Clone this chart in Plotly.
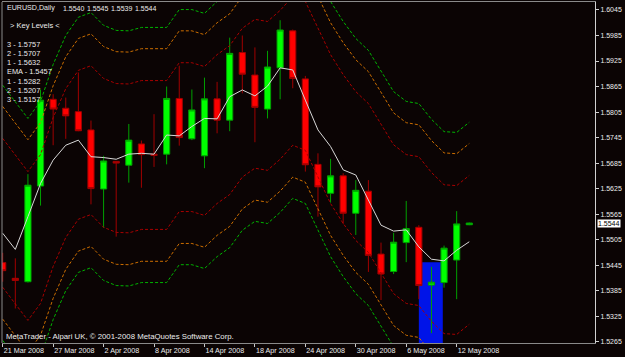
import plotly.graph_objects as go

# ---------------- data ----------------
dates = ["2008-03-21", "2008-03-24", "2008-03-25", "2008-03-26", "2008-03-27", "2008-03-28",
         "2008-03-31", "2008-04-01", "2008-04-02", "2008-04-03", "2008-04-04", "2008-04-07",
         "2008-04-08", "2008-04-09", "2008-04-10", "2008-04-11", "2008-04-14", "2008-04-15",
         "2008-04-16", "2008-04-17", "2008-04-18", "2008-04-21", "2008-04-22", "2008-04-23",
         "2008-04-24", "2008-04-25", "2008-04-28", "2008-04-29", "2008-04-30", "2008-05-01",
         "2008-05-02", "2008-05-05", "2008-05-06", "2008-05-07", "2008-05-08", "2008-05-09",
         "2008-05-12", "2008-05-13"]

opens = [1.5451, 1.5414, 1.5406, 1.5631, 1.5835, 1.5814, 1.5806, 1.5763, 1.5624, 1.5689,
         1.5680, 1.5730, 1.5706, 1.5706, 1.5837, 1.5742, 1.5702, 1.5836, 1.5786, 1.5945,
         1.5892, 1.5812, 1.5909, 1.5996, 1.5883, 1.5682, 1.5614, 1.5655, 1.5567, 1.5619,
         1.5471, 1.5430, 1.5498, 1.5534, 1.5398, 1.5404, 1.5457, 1.5540]
highs = [1.5474, 1.5461, 1.5659, 1.5858, 1.5847, 1.5839, 1.5898, 1.5785, 1.5702, 1.5690,
         1.5777, 1.5738, 1.5800, 1.5865, 1.5914, 1.5858, 1.5886, 1.5876, 1.5980, 1.5985,
         1.5957, 1.5949, 1.6021, 1.5999, 1.5890, 1.5708, 1.5695, 1.5661, 1.5645, 1.5645,
         1.5498, 1.5521, 1.5596, 1.5539, 1.5441, 1.5491, 1.5572, 1.5545]
lows = [1.5406, 1.5343, 1.5404, 1.5585, 1.5727, 1.5742, 1.5760, 1.5588, 1.5533, 1.5512,
        1.5639, 1.5627, 1.5676, 1.5682, 1.5726, 1.5739, 1.5673, 1.5755, 1.5760, 1.5849,
        1.5734, 1.5790, 1.5835, 1.5861, 1.5665, 1.5559, 1.5592, 1.5542, 1.5516, 1.5429,
        1.5363, 1.5424, 1.5452, 1.5365, 1.5285, 1.5392, 1.5365, 1.5539]
closes = [1.5432, 1.5409, 1.5633, 1.5833, 1.5812, 1.5796, 1.5761, 1.5625, 1.5690, 1.5685,
          1.5739, 1.5705, 1.5703, 1.5837, 1.5745, 1.5810, 1.5836, 1.5786, 1.5943, 1.5894,
          1.5816, 1.5911, 1.5998, 1.5884, 1.5681, 1.5629, 1.5655, 1.5567, 1.5621, 1.5468,
          1.5424, 1.5499, 1.5531, 1.5397, 1.5405, 1.5485, 1.5542, 1.5544]

ema = [1.5520, 1.5482, 1.5559, 1.5637, 1.5692, 1.5727, 1.5739, 1.5700, 1.5698, 1.5694,
       1.5706, 1.5708, 1.5706, 1.5751, 1.5749, 1.5771, 1.5790, 1.5789, 1.5841, 1.5857,
       1.5843, 1.5866, 1.5909, 1.5904, 1.5833, 1.5763, 1.5724, 1.5669, 1.5657, 1.5598,
       1.5539, 1.5525, 1.5528, 1.5488, 1.5459, 1.5455, 1.5480, 1.5500]

band_up3 = [1.5868, 1.5828, 1.5790, 1.5830, 1.5917, 1.5985, 1.6028, 1.6039, 1.6009, 1.5997,
            1.5996, 1.6004, 1.6004, 1.6004, 1.6046, 1.6046, 1.6037, 1.6065, 1.6086, 1.6127,
            1.6148, 1.6143, 1.6169, 1.6202, 1.6190, 1.6129, 1.6065, 1.6018, 1.5978, 1.5950,
            1.5903, 1.5853, 1.5830, 1.5825, 1.5788, 1.5759, 1.5757, 1.5781]
band_up2 = [1.5818, 1.5778, 1.5740, 1.5780, 1.5867, 1.5935, 1.5978, 1.5989, 1.5959, 1.5947,
            1.5946, 1.5954, 1.5954, 1.5954, 1.5996, 1.5996, 1.5987, 1.6015, 1.6036, 1.6077,
            1.6098, 1.6093, 1.6119, 1.6152, 1.6140, 1.6079, 1.6015, 1.5968, 1.5928, 1.5900,
            1.5853, 1.5803, 1.5780, 1.5775, 1.5738, 1.5709, 1.5707, 1.5731]
band_up1 = [1.5743, 1.5703, 1.5665, 1.5705, 1.5792, 1.5860, 1.5903, 1.5914, 1.5884, 1.5872,
            1.5871, 1.5879, 1.5879, 1.5879, 1.5921, 1.5921, 1.5912, 1.5940, 1.5961, 1.6002,
            1.6023, 1.6018, 1.6044, 1.6077, 1.6065, 1.6004, 1.5940, 1.5893, 1.5853, 1.5825,
            1.5778, 1.5728, 1.5705, 1.5700, 1.5663, 1.5634, 1.5632, 1.5656]
band_dn1 = [1.5393, 1.5353, 1.5315, 1.5355, 1.5442, 1.5510, 1.5553, 1.5564, 1.5534, 1.5522,
            1.5521, 1.5529, 1.5529, 1.5529, 1.5571, 1.5571, 1.5562, 1.5590, 1.5611, 1.5652,
            1.5673, 1.5668, 1.5694, 1.5727, 1.5715, 1.5654, 1.5590, 1.5543, 1.5503, 1.5475,
            1.5428, 1.5378, 1.5355, 1.5350, 1.5313, 1.5284, 1.5282, 1.5306]
band_dn2 = [1.5318, 1.5278, 1.5240, 1.5280, 1.5367, 1.5435, 1.5478, 1.5489, 1.5459, 1.5447,
            1.5446, 1.5454, 1.5454, 1.5454, 1.5496, 1.5496, 1.5487, 1.5515, 1.5536, 1.5577,
            1.5598, 1.5593, 1.5619, 1.5652, 1.5640, 1.5579, 1.5515, 1.5468, 1.5428, 1.5400,
            1.5353, 1.5303, 1.5280, 1.5275, 1.5238, 1.5209, 1.5207, 1.5231]
band_dn3 = [1.5268, 1.5228, 1.5190, 1.5230, 1.5317, 1.5385, 1.5428, 1.5439, 1.5409, 1.5397,
            1.5396, 1.5404, 1.5404, 1.5404, 1.5446, 1.5446, 1.5437, 1.5465, 1.5486, 1.5527,
            1.5548, 1.5543, 1.5569, 1.5602, 1.5590, 1.5529, 1.5465, 1.5418, 1.5378, 1.5350,
            1.5303, 1.5253, 1.5230, 1.5225, 1.5188, 1.5159, 1.5157, 1.5181]

tick_dates = ["2008-03-21", "2008-03-27", "2008-04-02", "2008-04-08", "2008-04-14",
              "2008-04-18", "2008-04-24", "2008-04-30", "2008-05-06", "2008-05-12"]
tick_labels = ["21 Mar 2008", "27 Mar 2008", "2 Apr 2008", "8 Apr 2008", "14 Apr 2008",
               "18 Apr 2008", "24 Apr 2008", "30 Apr 2008", "6 May 2008", "12 May 2008"]
price_ticks = [1.6045, 1.5985, 1.5925, 1.5865, 1.5805, 1.5745, 1.5685, 1.5625,
               1.5565, 1.5505, 1.5445, 1.5385, 1.5325, 1.5265]

key_levels_title = "> Key Levels <"
key_level_labels = ["3 - 1.5757", "2 - 1.5707", "1 - 1.5632", "EMA - 1.5457",
                    "1 - 1.5282", "2 - 1.5207", "3 - 1.5157"]
symbol = "EURUSD,Daily"
credit = "MetaTrader - Alpari UK, \u00a9 2001-2008 MetaQuotes Software Corp."

zone_start, zone_end, zone_top = "2008-05-07", "2008-05-09", 1.5452

# ---------------- styling / layout constants ----------------
W, H = 625, 357
ML, MR, MT, MB = 2, 30, 2, 14
BG = "#0b0404"
FONT = "Liberation Sans, Arial, sans-serif"
TXT = "#ececec"
Y_RANGE = [1.52619, 1.60638]
X_RANGE = [-0.056, 46.97]
HEADER_X = [60.5, 84.5, 108.5, 132.5]   # pixel starts of the four OHLC values

plot_h = H - MT - MB
plot_w = W - ML - MR


def py(pix):  # pixel row -> paper y
    return (H - MB - pix) / plot_h


def px(pix):  # pixel column -> paper x
    return (pix - ML) / plot_w


fig = go.Figure()

band_style = [
    (band_up3, "#00b400"), (band_up2, "#cc6e00"), (band_up1, "#a80000"),
    (band_dn1, "#a80000"), (band_dn2, "#cc6e00"), (band_dn3, "#00b400"),
]
for vals, col in band_style:
    fig.add_trace(go.Scatter(x=dates, y=vals, mode="lines",
                             line=dict(color=col, width=1, dash="3px,2px"),
                             hoverinfo="skip", showlegend=False))

fig.add_trace(go.Candlestick(
    x=dates, open=opens, high=highs, low=lows, close=closes,
    increasing=dict(line=dict(color="#00a000", width=1), fillcolor="#00ff00"),
    decreasing=dict(line=dict(color="#a00000", width=1), fillcolor="#ff0000"),
    whiskerwidth=0, showlegend=False))

fig.add_trace(go.Scatter(x=dates, y=ema, mode="lines",
                         line=dict(color="#d8d8d8", width=1),
                         hoverinfo="skip", showlegend=False))

# blue zone rectangle (background object)
fig.add_shape(type="rect", layer="below", xref="x", yref="y",
              x0=dates.index(zone_start), x1=dates.index(zone_end) - 0.1,
              y0=zone_top, y1=Y_RANGE[0],
              fillcolor="#0014e8", line=dict(width=0))
# left frame border
fig.add_shape(type="line", xref="paper", yref="paper", x0=0, x1=0, y0=0, y1=1,
              line=dict(color="#8a8a8a", width=1))

ann = []
ann.append(dict(text=symbol, x=px(4.5), y=py(8.5), size=7.1))
last_ohlc = [opens[-1], highs[-1], lows[-1], closes[-1]]
for xp, v in zip(HEADER_X, last_ohlc):
    ann.append(dict(text=f"{v:.4f}", x=px(xp), y=py(8.5), size=7.0))
ann.append(dict(text=key_levels_title, x=px(7.5), y=py(25.5), size=7.5))
for i, lab in enumerate(key_level_labels):
    ann.append(dict(text=lab, x=px(4.5), y=py(44 + i * 9.33), size=7.4))
ann.append(dict(text=credit, x=px(4), y=py(336.5), size=7.8))
for a in ann:
    size = a.pop("size")
    fig.add_annotation(xref="paper", yref="paper", xanchor="left", yanchor="middle",
                       showarrow=False, font=dict(family=FONT, size=size, color=TXT), **a)

# current price box
fig.add_annotation(xref="paper", yref="y", x=1, y=closes[-1], xanchor="left",
                   yanchor="middle", xshift=2, showarrow=False, text=f"{closes[-1]:.4f}",
                   bgcolor="#ffffff", borderpad=0,
                   font=dict(family=FONT, size=7, color="#000000"))

fig.update_layout(
    width=W, height=H,
    margin=dict(l=ML, r=MR, t=MT, b=MB, pad=0),
    paper_bgcolor=BG, plot_bgcolor=BG,
    showlegend=False,
    font=dict(family=FONT, size=7, color=TXT),
    xaxis=dict(type="category", range=X_RANGE, rangeslider=dict(visible=False),
               showgrid=False, zeroline=False, showline=True, mirror=True,
               linecolor="#8a8a8a", linewidth=1,
               tickmode="array", tickvals=tick_dates, ticktext=tick_labels,
               ticks="outside", ticklen=3, tickcolor="#c8c8c8",
               ticklabelposition="outside right",
               tickfont=dict(family=FONT, size=7.2, color=TXT), automargin=False),
    yaxis=dict(range=Y_RANGE, side="right", showgrid=False, zeroline=False,
               showline=True, linecolor="#d0d0d0", linewidth=1,
               tickmode="array", tickvals=price_ticks, tickformat=".4f",
               ticks="outside", ticklen=3, tickcolor="#d0d0d0",
               tickfont=dict(family=FONT, size=7, color=TXT), automargin=False),
)

fig.write_html("out.html")
